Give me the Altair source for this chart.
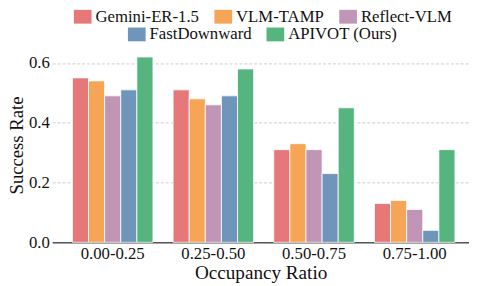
import altair as alt
import pandas as pd

categories = ["0.00-0.25", "0.25-0.50", "0.50-0.75", "0.75-1.00"]
series = ["Gemini-ER-1.5", "VLM-TAMP", "Reflect-VLM", "FastDownward", "APIVOT (Ours)"]
gemini = [0.55, 0.51, 0.31, 0.13]
vlm_tamp = [0.54, 0.48, 0.33, 0.14]
reflect_vlm = [0.49, 0.46, 0.31, 0.11]
fastdownward = [0.51, 0.49, 0.23, 0.04]
apivot = [0.62, 0.58, 0.45, 0.31]
colors = ["#E7787A", "#F5A555", "#C195B5", "#7095BA", "#56B57F"]

vals = [gemini, vlm_tamp, reflect_vlm, fastdownward, apivot]
rows = []
for s, v in zip(series, vals):
    for c, y in zip(categories, v):
        rows.append({"cat": c, "series": s, "value": y})
df = pd.DataFrame(rows)

FONT = "Liberation Serif"
rect_path = "M-1,-0.78L1,-0.78L1,0.78L-1,0.78Z"

x_enc = alt.X("cat:N", sort=categories, title="Occupancy Ratio",
              scale=alt.Scale(paddingInner=0.2, paddingOuter=0.17, align=0.59),
              axis=alt.Axis(labelAngle=0, ticks=False, domainColor="#555555", domainWidth=1.6,
                            labelFontSize=17, titleFontSize=19.5, labelPadding=3, titlePadding=3,
                            grid=False))
y_enc = alt.Y("value:Q", title="Success Rate",
              scale=alt.Scale(domain=[0, 0.651], nice=False),
              axis=alt.Axis(values=[0, 0.2, 0.4, 0.6], format=".1f", ticks=False, domain=False,
                            labelFontSize=17, titleFontSize=19, labelPadding=3, titlePadding=1.5,
                            grid=True, gridColor="#cccccc", gridDash=[3, 2], gridWidth=1))
xo = alt.XOffset("series:N", sort=series, scale=alt.Scale(domain=series, paddingInner=0, paddingOuter=0))

def layer(names, cols, lx, ly):
    return alt.Chart(df).transform_filter(
        alt.FieldOneOfPredicate(field="series", oneOf=names)
    ).mark_bar(stroke="white", strokeWidth=0.8).encode(
        x=x_enc, y=y_enc, xOffset=xo,
        color=alt.Color("series:N", sort=names,
                        scale=alt.Scale(domain=names, range=cols),
                        legend=alt.Legend(title=None, orient="none", direction="horizontal",
                                          legendX=lx, legendY=ly, symbolType=rect_path,
                                          symbolSize=324, symbolStrokeWidth=0, symbolOpacity=1,
                                          labelFontSize=17, labelOffset=4, columnPadding=15,
                                          padding=0, labelFont=FONT, labelLimit=300)),
    )

la = layer(series[:3], colors[:3], 22, -40.5)
lb = layer(series[3:], colors[3:], 77, -22.5)

chart = alt.layer(la, lb).resolve_scale(color="independent").properties(
    width=424, height=198,
    autosize=alt.AutoSizeParams(type="none"),
    padding={"left": 45, "top": 38, "right": 0, "bottom": 40},
).configure(font=FONT).configure_view(stroke=None).configure_axis(
    labelFont=FONT, titleFont=FONT, labelColor="#111111", titleColor="#111111", titleFontWeight="normal"
).configure_legend(labelColor="#111111")

chart.save("out.html", embed_options={"renderer": "svg", "actions": False})
